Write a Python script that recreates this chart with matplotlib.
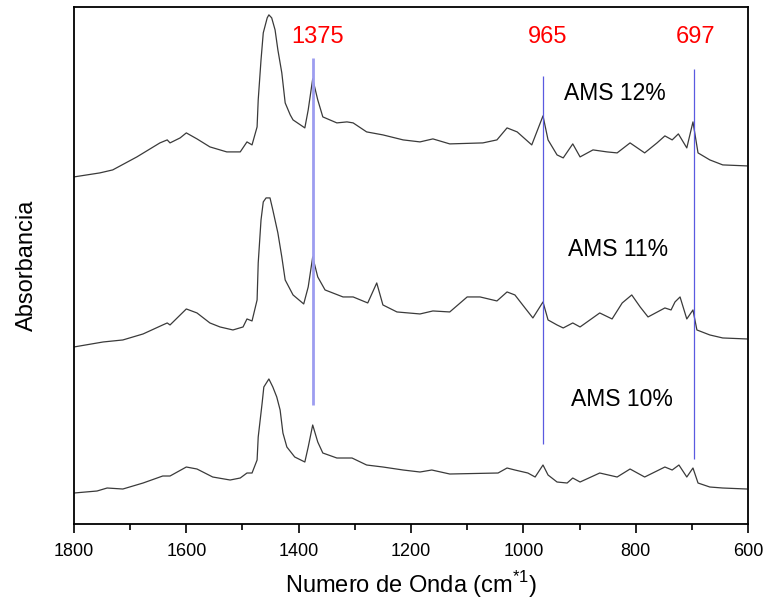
import numpy as np
import matplotlib
matplotlib.use("Agg")
import matplotlib.pyplot as plt

plt.rcParams['font.family'] = ['Liberation Sans', 'DejaVu Sans']

# spectra (wavenumber cm-1, absorbance in arbitrary units, already stacked)
wn_12 = [1800, 1754, 1731, 1688, 1647, 1634, 1629, 1611, 1600, 1581, 1558, 1528, 1504, 1492,
         1483, 1474, 1472, 1467, 1463, 1456, 1453, 1448, 1442, 1437, 1430, 1424, 1415, 1410,
         1389, 1383, 1375, 1366, 1357, 1332,
         1314, 1303, 1279, 1250, 1214, 1184, 1161, 1131, 1072, 1047, 1029, 1011, 985, 965,
         956, 940, 929, 912, 899, 876, 851, 833, 810, 784, 762, 748, 735, 724, 709, 698, 689,
         668, 645, 602]
ab_12 = [347, 351, 354, 367, 381, 384, 381, 386, 391, 385, 377, 372, 372, 382,
         379, 397, 424, 464, 491, 506, 509, 506, 494, 474, 451, 421, 409, 404,
         396, 414, 445, 424, 407, 401,
         402, 401, 392, 389, 384, 382, 385, 380, 381, 384, 396, 392, 379, 408,
         384, 369, 366, 380, 367, 374, 372, 371, 381, 371, 381, 388, 384, 390, 376, 402, 371,
         364, 359, 358]

wn_11 = [1800, 1748, 1713, 1677, 1642, 1634, 1629, 1600, 1581, 1558, 1540, 1517, 1499, 1492,
         1483, 1474, 1472, 1467, 1463, 1458, 1451, 1446, 1437, 1430, 1424, 1410, 1391, 1383,
         1375, 1366, 1353, 1321,
         1303, 1277, 1261, 1250, 1225, 1184, 1161, 1131, 1100, 1077, 1047, 1029, 1015, 997,
         983, 965, 956, 940, 929, 912, 899, 864, 842, 824, 807, 792, 778, 748, 737, 730, 721,
         709, 698, 691, 668, 645, 602]
ab_11 = [177, 182, 184, 190, 199, 201, 199, 215, 211, 201, 197, 194, 197, 205,
         203, 224, 261, 304, 322, 326, 326, 314, 291, 267, 244, 229, 220, 237,
         267, 247, 234, 227,
         227, 221, 241, 219, 212, 210, 213, 212, 227, 227, 223, 232, 229, 216,
         206, 222, 204, 199, 196, 201, 197, 211, 205, 221, 229, 217, 207, 216, 214, 222, 227,
         205, 214, 194, 189, 186, 185]

wn_10 = [1800, 1759, 1741, 1713, 1677, 1642, 1629, 1600, 1581, 1553, 1522, 1504, 1492, 1483,
         1474, 1472, 1465, 1462, 1453, 1446, 1439, 1433, 1428, 1421, 1407, 1389, 1383, 1375,
         1366, 1357, 1332, 1305,
         1279, 1250, 1214, 1184, 1163, 1131, 1045, 1029, 1015, 992, 979, 965, 956, 940, 922,
         912, 899, 864, 833, 810, 784, 748, 735, 723, 709, 698, 689, 668, 645, 602]
ab_10 = [31, 33, 36, 35, 41, 48, 48, 57, 55, 47, 44, 46, 51, 51,
         64, 87, 121, 137, 145, 137, 127, 114, 91, 77, 67, 62, 77, 99,
         82, 71, 66, 66,
         59, 57, 54, 52, 54, 50, 51, 56, 54, 51, 47, 59, 49, 42, 41,
         46, 42, 51, 47, 55, 47, 57, 54, 59, 47, 56, 41, 37, 36, 35]

labels = ["AMS 12%", "AMS 11%", "AMS 10%"]
label_pos = [(837, 430), (832, 274), (824, 124)]

peaks = [1375, 965, 697]
peak_text = ["1375", "965", "697"]
peak_text_x = [1366, 956, 694]
peak_span = [(119, 466), (80, 448), (65, 455)]
peak_colors = ["#9d9df0", "#5a5ae0", "#5a5ae0"]
peak_widths = [2.0, 0.9, 0.9]

fig = plt.figure(figsize=(7.65, 6.07), dpi=100)
ax = fig.add_axes([0.0967, 0.1367, 0.8811, 0.852])

for wn, ab in [(wn_12, ab_12), (wn_11, ab_11), (wn_10, ab_10)]:
    ax.plot(wn, ab, color="#3a3a3a", lw=0.9)

for p, (y0, y1), c, w in zip(peaks, peak_span, peak_colors, peak_widths):
    ax.vlines(p, y0, y1, color=c, lw=w)

for t, x in zip(peak_text, peak_text_x):
    ax.text(x, 487, t, color="red", fontsize=17, ha="center", va="center")

for t, (x, y) in zip(labels, label_pos):
    ax.text(x, y, t, color="black", fontsize=16.5, ha="center", va="center")

ax.set_xlim(1800, 600)
ax.set_ylim(0, 517)
ax.set_xticks([1800, 1600, 1400, 1200, 1000, 800, 600])
ax.set_xticks(np.arange(1700, 600, -200), minor=True)
ax.tick_params(axis="x", which="major", length=6.5, width=1.2, labelsize=13, pad=7)
ax.tick_params(axis="x", which="minor", length=4.3, width=1.2)
ax.set_yticks([])
for s in ax.spines.values():
    s.set_linewidth(1.3)

ax.set_xlabel("Numero de Onda (cm$^{\\mathregular{*1}}$)", fontsize=17, labelpad=7)
ax.set_ylabel("Absorbancia", fontsize=17, labelpad=26)

fig.savefig("out.png", dpi=100)
